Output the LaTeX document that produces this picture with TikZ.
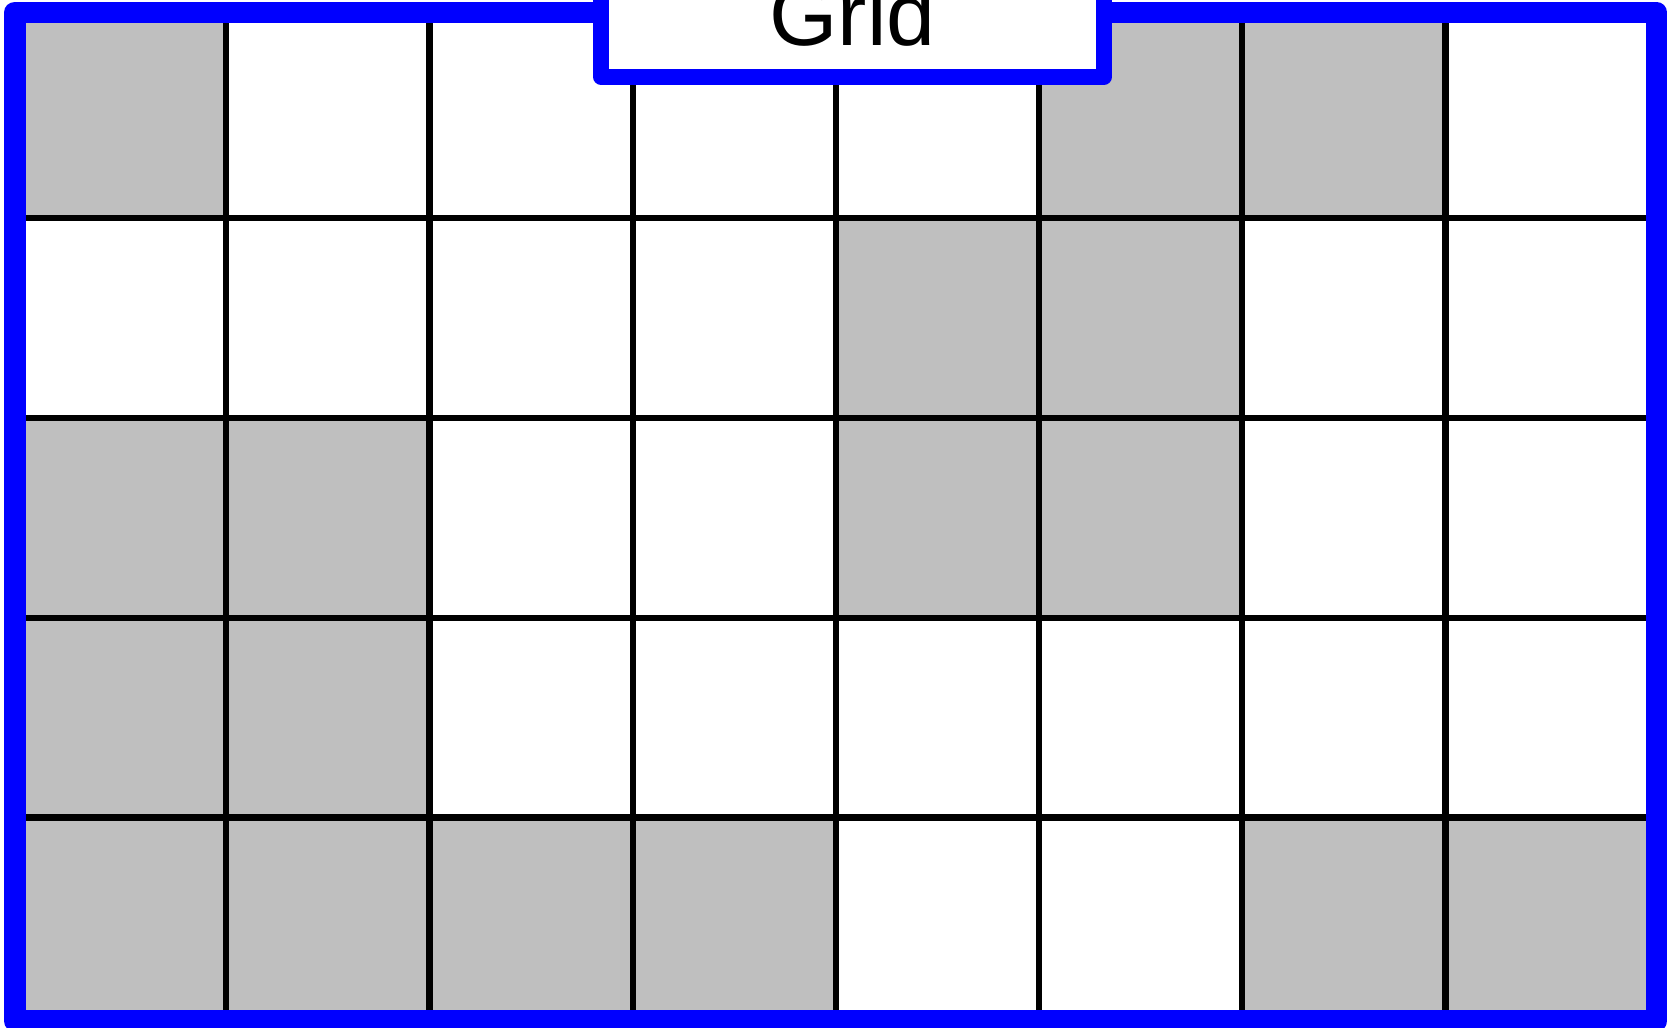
\documentclass[tikz,border=0pt]{standalone}
\usepackage{fontspec}
\setmainfont{Liberation Sans}
\definecolor{cellgray}{RGB}{191,191,191}
\begin{document}
\begin{tikzpicture}[x=0.01cm,y=-0.01cm,
  cell/.style={fill=cellgray},
  gridline/.style={draw=black,line width=0.063cm},
  frame/.style={draw=blue,line width=0.216cm,line join=round},
  titlebox/.style={draw=blue,fill=white,line width=0.16cm,line join=round},
  titletext/.style={font=\fontsize{25}{30}\selectfont,anchor=base,inner sep=0pt}]
\clip (0,0) rectangle (1675,1028);
\fill[white] (0,0) rectangle (1675,1028);
\foreach \r/\c in {1/1,1/6,1/7,2/5,2/6,3/1,3/2,3/5,3/6,4/1,4/2,5/1,5/2,5/3,5/4,5/7,5/8}{
  \fill[cell] ({23.1+(\c-1)*203.2},{18.6+(\r-1)*199.7}) rectangle ++(203.2,199.7);
}
\foreach \i in {0,...,8}{
  \draw[gridline] ({23.1+\i*203.2},18.6) -- ++(0,998.5);
}
\foreach \j in {0,...,5}{
  \draw[gridline] (23.1,{18.6+\j*199.7}) -- ++(1625.6,0);
}
\draw[frame] (14.7,12.5) rectangle (1656.5,1020.8);
\filldraw[titlebox] (601,-40) -- (601,76.7) -- (1104,76.7) -- (1104,-40) -- cycle;
\node[titletext] (title) at (852.5,46) {Grid};
\end{tikzpicture}
\end{document}
